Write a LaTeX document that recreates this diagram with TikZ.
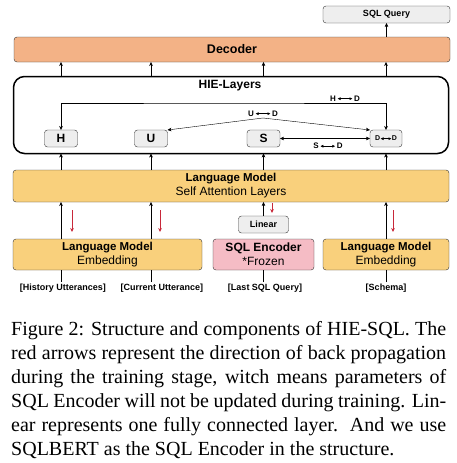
\documentclass[tikz,border=0pt]{standalone}
\usepackage{fontspec}
\setmainfont{Liberation Serif}
\setsansfont{Liberation Sans}
\usetikzlibrary{positioning}
\usetikzlibrary{arrows.meta}
\definecolor{decfill}{HTML}{F3B286}
\definecolor{lmfill}{HTML}{F9D07C}
\definecolor{encfill}{HTML}{F5BCC5}
\definecolor{boxgray}{HTML}{EEEEEE}
\definecolor{bpred}{HTML}{C8283A}
\newcommand{\fs}[1]{\fontsize{#1}{#1}\selectfont}
\newcommand{\lra}[1]{\,\tikz[baseline=-0.6ex,x=1pt,y=1pt]\draw[{Latex[length=3pt,width=3pt]}-{Latex[length=3pt,width=3pt]},line width=0.5pt](0,0)--(#1,0);\,}
\begin{document}
\begin{tikzpicture}[x=1pt,y=-1pt,>={Stealth[length=4pt,width=3.6pt,inset=1.2pt]},
        block/.style={draw=black!80,rounded corners=3pt,inner sep=0pt,outer sep=0pt,align=center,font=\sffamily},
        small/.style={block,fill=boxgray,minimum height=17pt,font=\sffamily\bfseries},
        tag/.style={inner sep=1.5pt,font=\sffamily\bfseries\fs{8}},
        bp/.style={->,bpred,line width=0.6pt}]
        \useasboundingbox (0,0) rectangle (456,463);
        %
        \node[small,minimum width=127pt,font=\sffamily\bfseries\fs{9}](query) at (386.5,14.5){SQL Query};
        \node[block,fill=decfill,minimum width=436pt,minimum height=25pt,font=\sffamily\bfseries\fs{12.5}](dec) at (232,49.5){Decoder};
        \node[block,draw=black,line width=1.5pt,rounded corners=11pt,minimum width=435pt,minimum height=77pt](hie) at (231,115){};
        \node[font=\sffamily\bfseries\fs{12}](hietitle) at (230,86){HIE-Layers};
        %
        \node[small,minimum width=33pt,font=\sffamily\bfseries\fs{12}](H) at (61,138.5){H};
        \node[small,minimum width=33pt,font=\sffamily\bfseries\fs{12}](U) at (151,138.5){U};
        \node[small,minimum width=33pt,font=\sffamily\bfseries\fs{12}](S) at (263.5,138.5){S};
        \node[small,minimum width=32pt,font=\sffamily\bfseries\fs{7}](D) at (386,138.5){D\hspace{-1pt}\lra{11}\hspace{-1pt}D};
        %
        \node[block,fill=lmfill,minimum width=436pt,minimum height=32pt,font=\sffamily\fs{12}](lmsa) at (231,186)
            {{\bfseries\fs{11.5}Language Model}\\[2pt]Self Attention Layers};
        \node[small,minimum width=50pt,font=\sffamily\bfseries\fs{9}](linear) at (263.5,224.5){Linear};
        \node[block,fill=lmfill,minimum width=189pt,minimum height=31pt,font=\sffamily\fs{12}](emb1) at (107.5,254.5)
            {{\bfseries\fs{11.5}Language Model}\\[2pt]Embedding};
        \node[block,fill=encfill,minimum width=101pt,minimum height=31pt,font=\sffamily\fs{12}](enc) at (263.5,254.5)
            {{\bfseries\fs{12}SQL Encoder}\\[2pt]*Frozen};
        \node[block,fill=lmfill,minimum width=126pt,minimum height=31pt,font=\sffamily\fs{12}](emb2) at (386,254.5)
            {{\bfseries\fs{11.5}Language Model}\\[2pt]Embedding};
        %
        \node[tag,font=\sffamily\bfseries\fs{9}](hist) at (63,288){[History Utterances]};
        \node[tag,font=\sffamily\bfseries\fs{9}](cur) at (162,288){[Current Utterance]};
        \node[tag,font=\sffamily\bfseries\fs{9}](last) at (265,288){[Last SQL Query]};
        \node[tag,font=\sffamily\bfseries\fs{9}](schema) at (386,288){[Schema]};
        %
        \draw[->] (dec.north -| query) -- (query.south);
        \foreach \c in {H,U,S,D}{
            \draw[->] (hie.north -| \c) -- (dec.south -| \c);
            \draw[->] (lmsa.north -| \c) -- (hie.south -| \c);
        }
        \draw[->] (emb1.north -| H) -- (lmsa.south -| H);
        \draw[->] (emb1.north -| U) -- (lmsa.south -| U);
        \draw[->] (linear.north) -- (lmsa.south -| linear);
        \draw[->] (emb2.north -| D) -- (lmsa.south -| D);
        %
        \draw (hist.north -| H) -- (emb1.south -| H);
        \draw (cur.north -| U) -- (emb1.south -| U);
        \draw (last.north -| S) -- (enc.south -| S);
        \draw (schema.north -| D) -- (emb2.south -| D);
        %
        \coordinate (hdtop) at (224,103);
        \coordinate (udtop) at (263,118);
        \draw[<->] (H.north) |- (hdtop) -| (D.north);
        \draw[<->] (U.north east) -- (udtop) -- (D.north west);
        \draw[<->] (S.east) -- (D.west);
        \node[tag](hdlab) at (345,98.5){H\lra{15}D};
        \node[tag](udlab) at (263,113.5){U\lra{15}D};
        \node[tag](sdlab) at (328,146){S\lra{15}D};
        %
        \foreach \n/\x/\y/\l in {1/72/210/22,2/160/210/22,3/272/203/10,4/393/210/22}{
            \coordinate (bp\n) at (\x,\y);
            \draw[bp] (bp\n) -- ++(0,\l);
        }
        %
        \node[anchor=north west,inner sep=0pt,text width=435pt,align=justify,
              font=\rmfamily\fontsize{20}{24}\selectfont](caption) at (11,321.5){%
            Figure 2: Structure and components of HIE-SQL. The\linebreak
            red arrows represent the direction of back propagation\linebreak
            during the training stage, witch means parameters of\linebreak
            SQL Encoder will not be updated during training. Lin-\linebreak
            ear represents one fully connected layer.\ \ And we use\linebreak
            SQLBERT as the SQL Encoder in the structure.};
\end{tikzpicture}
\end{document}
